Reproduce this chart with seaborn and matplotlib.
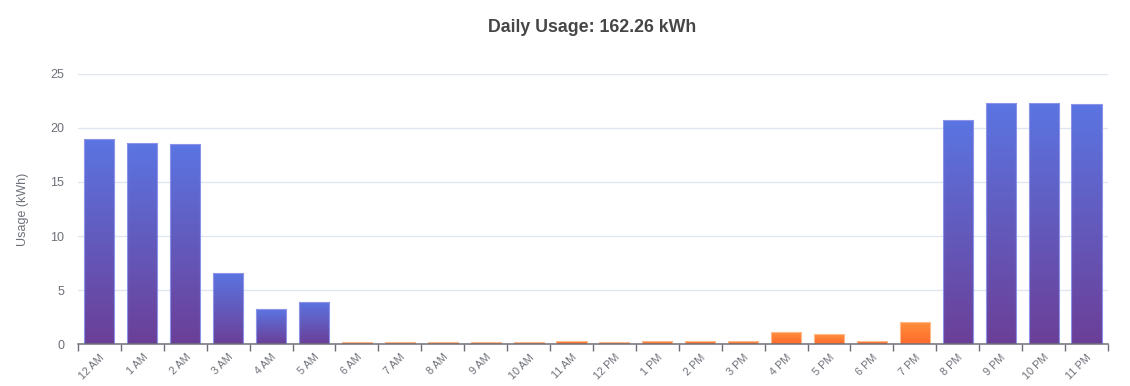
import numpy as np
import pandas as pd
import matplotlib
matplotlib.use("Agg")
import matplotlib.pyplot as plt
import seaborn as sns
from matplotlib.colors import to_rgb

hours = ["12 AM", "1 AM", "2 AM", "3 AM", "4 AM", "5 AM", "6 AM", "7 AM", "8 AM",
         "9 AM", "10 AM", "11 AM", "12 PM", "1 PM", "2 PM", "3 PM", "4 PM", "5 PM",
         "6 PM", "7 PM", "8 PM", "9 PM", "10 PM", "11 PM"]
usage = [19.0, 18.6, 18.5, 6.6, 3.2, 3.9, 0.14, 0.14, 0.14, 0.14, 0.14, 0.28,
         0.14, 0.25, 0.32, 0.25, 1.1, 0.9, 0.3, 2.0, 20.7, 22.3, 22.35, 22.2]
title = "Daily Usage: 162.26 kWh"
ylabel = "Usage (kWh)"
yticks = [0, 5, 10, 15, 20, 25]

sns.set_theme(style="white")
plt.rcParams['font.family'] = ['Liberation Sans', 'DejaVu Sans']

df = pd.DataFrame({"hour": hours, "usage": usage})
df["tier"] = np.where(df["usage"] > 2.5, "high", "low")

fig = plt.figure(figsize=(11.3, 3.86), dpi=100)
ax = fig.add_axes([0.069, 0.1088, 0.9115, 0.6995])
sns.barplot(data=df, x="hour", y="usage", hue="tier",
            palette={"high": "#6259c8", "low": "#ff7a33"},
            width=0.7, dodge=False, legend=False, ax=ax)

grad = {
    "high": (to_rgb("#6b3f97"), to_rgb("#5b75e2")),
    "low": (to_rgb("#ff6a2c"), to_rgb("#ff8f3c")),
}
edge = {"high": "#8c93e8", "low": "#ffb98a"}
for p in list(ax.patches):
    h = p.get_height()
    if not np.isfinite(h) or h <= 0:
        continue
    tier = "high" if h > 2.5 else "low"
    bot, top = grad[tier]
    t = np.linspace(0, 1, 256)[:, None]
    img = (np.array(bot)[None, :] * (1 - t) + np.array(top)[None, :] * t)[:, None, :]
    x0 = p.get_x()
    w = p.get_width()
    im = ax.imshow(img, extent=[x0, x0 + w, 0, h], origin="lower",
                   aspect="auto", zorder=2, interpolation="bilinear")
    im.set_clip_path(p)
    p.set_edgecolor(edge[tier])
    p.set_linewidth(0.8)
    p.set_zorder(3)
    p.set_facecolor("none")

ax.set_xlim(-0.5, len(hours) - 0.5)
ax.set_ylim(0, 25)
ax.set_yticks(yticks)
ax.set_yticklabels([str(v) for v in yticks])
ax.yaxis.grid(True, color="#e0e6f1", lw=1)
ax.xaxis.grid(False)
ax.set_axisbelow(True)
for s in ["left", "right", "top"]:
    ax.spines[s].set_visible(False)
ax.spines["bottom"].set_color("#6e7079")
ax.spines["bottom"].set_linewidth(1.1)
ax.spines["bottom"].set_zorder(4)

ax.set_xticks(range(len(hours)))
ax.set_xticklabels(hours, rotation=45, ha="right", rotation_mode="anchor",
                   fontsize=7.8, color="#6e7079")
ax.tick_params(axis="x", which="major", length=0, pad=6)
ax.set_xticks(np.arange(-0.5, len(hours), 1.0), minor=True)
ax.tick_params(axis="x", which="minor", length=5, width=1, color="#6e7079",
               direction="out", bottom=True)
ax.tick_params(axis="y", length=0, labelsize=9, labelcolor="#6e7079", pad=10)

ax.set_xlabel("")
ax.set_ylabel(ylabel, fontsize=9, color="#6e7079")
ax.yaxis.set_label_coords(-0.048, 0.5)

fig.text(0.524, 1 - 28 / 386, title, ha="center", va="center",
         fontsize=12.8, fontweight="bold", color="#464646")

fig.savefig("out.png", dpi=100)
